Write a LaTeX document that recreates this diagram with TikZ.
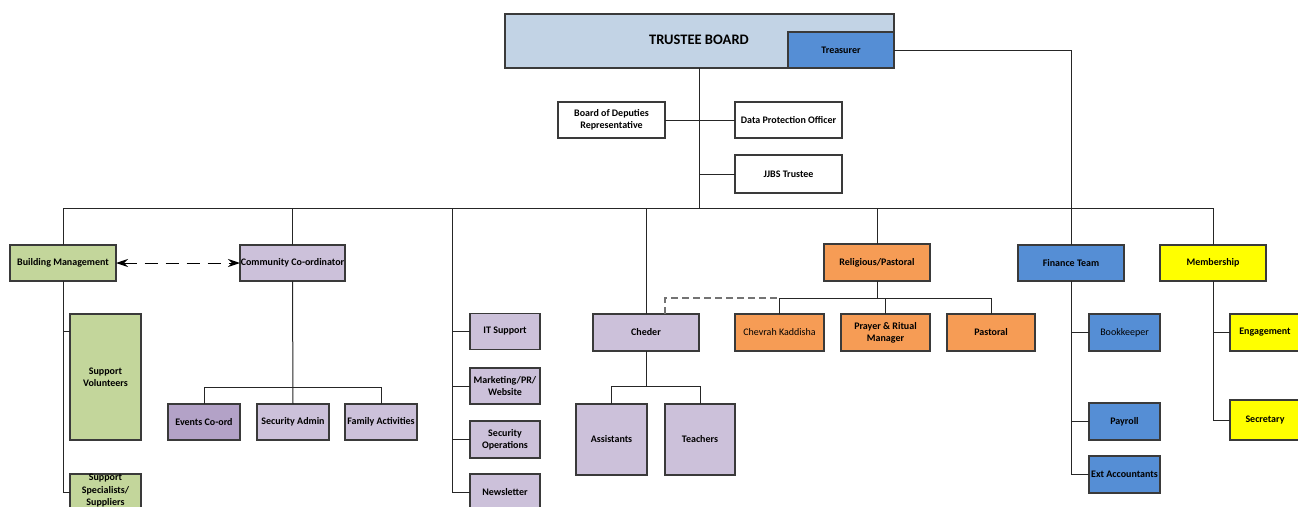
\documentclass[tikz,border=0pt]{standalone}
\usepackage{fontspec}
\setmainfont{Carlito}
\usetikzlibrary{arrows.meta}
\definecolor{tbblue}{HTML}{C2D3E5}
\definecolor{midblue}{HTML}{558ED5}
\definecolor{green1}{HTML}{C3D69B}
\definecolor{lav}{HTML}{CCC1DA}
\definecolor{lavdark}{HTML}{B3A2C7}
\definecolor{orng}{HTML}{F69C55}
\definecolor{yell}{HTML}{FFFF00}
\definecolor{edge}{HTML}{3A3A3A}
\tikzset{
  x=1pt, y=-1pt,
  box/.style={draw=edge, line width=1.05pt, rectangle, inner sep=0pt, outer sep=0pt,
    font=\bfseries\fontsize{10}{12}\selectfont, align=center, text=black},
  wire/.style={draw=black!85, line width=1pt},
  dashlink/.style={draw=black, line width=1pt, dash pattern=on 13pt off 8pt,
    {Stealth[length=12pt,width=8pt]}-{Stealth[length=12pt,width=8pt]}},
  graydash/.style={draw=black!55, line width=1.3pt, dash pattern=on 7pt off 4pt},
}
\begin{document}
\begin{tikzpicture}
\useasboundingbox (0,0) rectangle (1298,506);
\clip (0,0) rectangle (1298,506);
\fill[white] (0,0) rectangle (1298,506);

% top
\node[box, fill=tbblue, minimum width=389pt, minimum height=54pt] (tb) at (699.5,41) {};
\node[font=\bfseries\fontsize{14.5}{16}\selectfont] (tbt) at (699,40) {TRUSTEE BOARD};
\node[box, fill=midblue, minimum width=106pt, minimum height=36pt] (tr) at (841,50) {Treasurer};
\node[box, minimum width=107pt, minimum height=36pt] (bod) at (611.5,120) {Board of Deputies\\Representative};
\node[box, minimum width=107pt, minimum height=36pt] (dpo) at (788.5,120) {Data Protection Officer};
\node[box, minimum width=107pt, minimum height=38pt] (jj) at (788.5,174) {JJBS Trustee};

% level 2
\node[box, fill=green1, minimum width=106pt, minimum height=36pt] (bm) at (63,263) {Building Management};
\node[box, fill=lav, minimum width=105pt, minimum height=36pt] (cc) at (292.5,263) {Community Co-ordinator};
\node[box, fill=orng, minimum width=106pt, minimum height=37pt] (rp) at (877,262.5) {Religious/Pastoral};
\node[box, fill=midblue, minimum width=106pt, minimum height=36pt] (ft) at (1071,263) {Finance Team};
\node[box, fill=yell, minimum width=106pt, minimum height=36pt] (mem) at (1213,263) {Membership};

% building management children
\node[box, fill=green1, minimum width=71pt, minimum height=126pt] (sv) at (105.5,377) {Support\\Volunteers};
\node[box, fill=green1, minimum width=71pt, minimum height=36pt] (ss) at (105.5,492) {};
\node[font=\bfseries\fontsize{10}{12.5}\selectfont, align=center, inner sep=0pt] (sst) at (105.5,491) {Support\\Specialists/\\Suppliers};

% community children
\node[box, fill=lavdark, minimum width=72pt, minimum height=36pt] (ec) at (204,422) {Events Co-ord};
\node[box, fill=lav, minimum width=72pt, minimum height=36pt] (sa) at (293,422) {Security Admin};
\node[box, fill=lav, minimum width=72pt, minimum height=36pt] (fa) at (381,422) {Family Activities};

% IT column
\coordinate (itb) at (452,208);
\node[box, fill=lav, minimum width=70pt, minimum height=36pt] (it) at (505,331.5) {IT Support};
\node[box, fill=lav, minimum width=70pt, minimum height=36pt] (mk) at (505,386) {Marketing/PR/\\Website};
\node[box, fill=lav, minimum width=70pt, minimum height=37pt] (so) at (505,439.5) {Security\\Operations};
\node[box, fill=lav, minimum width=70pt, minimum height=36pt] (nl) at (505,492) {Newsletter};

% Cheder
\node[box, fill=lav, minimum width=106pt, minimum height=37pt] (ch) at (646,332.5) {Cheder};
\node[box, fill=lav, minimum width=71pt, minimum height=71pt] (as) at (611.5,439.5) {Assistants};
\node[box, fill=lav, minimum width=70pt, minimum height=71pt] (te) at (700,439.5) {Teachers};

% religious children
\node[box, fill=orng, minimum width=89pt, minimum height=37pt, font=\mdseries\fontsize{10}{12}\selectfont] (ck) at (779.5,332.5) {Chevrah Kaddisha};
\node[box, fill=orng, minimum width=89pt, minimum height=37pt] (pr) at (885.5,332.5) {Prayer \& Ritual\\Manager};
\node[box, fill=orng, minimum width=88pt, minimum height=37pt] (pa) at (991,332.5) {Pastoral};

% finance children
\node[box, fill=midblue, minimum width=71pt, minimum height=37pt, font=\mdseries\fontsize{10}{12}\selectfont] (bk) at (1124.5,332.5) {Bookkeeper};
\node[box, fill=midblue, minimum width=71pt, minimum height=37pt] (py) at (1124.5,421.5) {Payroll};
\node[box, fill=midblue, minimum width=71pt, minimum height=37pt] (ea) at (1124.5,474.5) {Ext Accountants};

% membership children
\node[box, fill=yell, minimum width=70pt, minimum height=37pt] (en) at (1265,332.5) {Engagement};
\node[box, fill=yell, minimum width=70pt, minimum height=40pt] (se) at (1265,420) {Secretary};

% ---------- connectors ----------
\coordinate (bus) at (699,208);
\draw[wire] (tb.south -| bus) -- (bus);
\draw[wire] (bod.east) -- (dpo.west);
\draw[wire] (jj.west -| bus) -- (jj.west);
\draw[wire] (bm.north) -- (bm.north |- bus) -- (mem.north |- bus) -- (mem.north);
\draw[wire] (cc.north) -- (cc.north |- bus);
\draw[wire] (itb) -- (itb |- nl.west) -- (nl.west);
\draw[wire] (it.west -| itb) -- (it.west);
\draw[wire] (mk.west -| itb) -- (mk.west);
\draw[wire] (so.west -| itb) -- (so.west);
\draw[wire] (ch.north) -- (ch.north |- bus);
\draw[wire] (rp.north) -- (rp.north |- bus);
\draw[wire] (tr.east) -| (ft.north);

\draw[dashlink] (bm.east) -- (cc.west);

\draw[wire] (bm.south) |- (ss.west);
\draw[wire] ([yshift=46pt]sv.west -| bm.south) -- ([yshift=46pt]sv.west);

\coordinate (ccj) at (292.5,387);
\draw[wire] (cc.south) -- (sa.north);
\draw[wire] (ec.north) -- (ec.north |- ccj) -- (fa.north |- ccj) -- (fa.north);

\coordinate (chj) at (646,386);
\draw[wire] (ch.south) -- (chj);
\draw[wire] (as.north) -- (as.north |- chj) -- (te.north |- chj) -- (te.north);

\coordinate (rpj) at (877,298);
\draw[wire] (rp.south) -- (rpj);
\draw[wire] (ck.north) -- (ck.north |- rpj) -- (pa.north |- rpj) -- (pa.north);
\draw[wire] (pr.north) -- (pr.north |- rpj);
\draw[graydash] ([xshift=19pt]ch.north) |- (ck.north |- rpj);

\draw[wire] (ft.south) |- (ea.west);
\draw[wire] (bk.west -| ft.south) -- (bk.west);
\draw[wire] (py.west -| ft.south) -- (py.west);

\draw[wire] (mem.south) |- (se.west);
\draw[wire] (en.west -| mem.south) -- (en.west);
\end{tikzpicture}
\end{document}
